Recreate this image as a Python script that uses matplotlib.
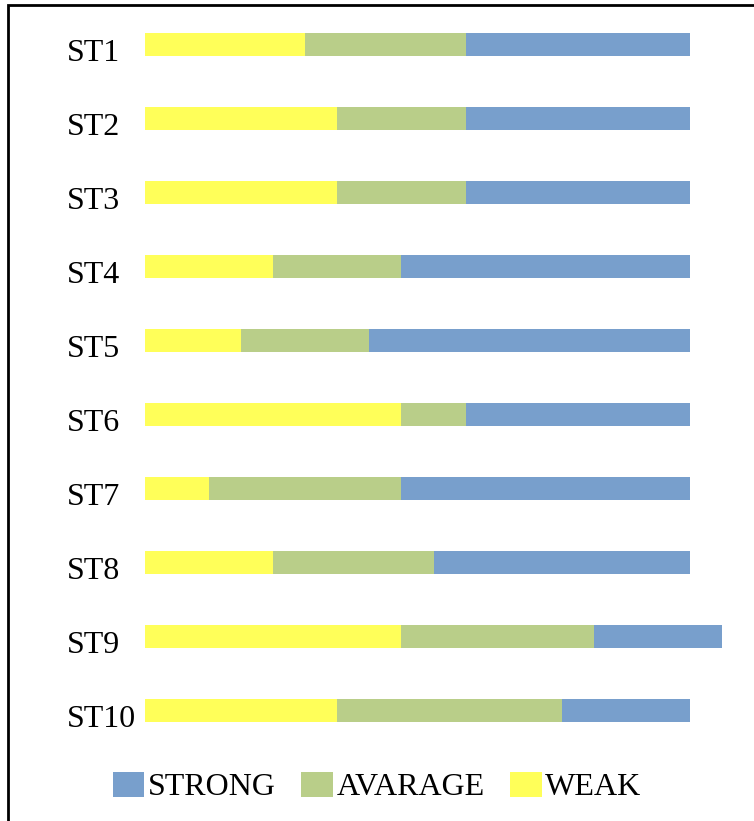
import matplotlib.pyplot as plt
from matplotlib.patches import Rectangle
from matplotlib.transforms import blended_transform_factory, ScaledTranslation

students = ['ST1', 'ST2', 'ST3', 'ST4', 'ST5', 'ST6', 'ST7', 'ST8', 'ST9', 'ST10']
weak = [5, 6, 6, 4, 3, 8, 2, 4, 8, 6]
avarage = [5, 4, 4, 4, 4, 2, 6, 5, 6, 7]
strong = [7, 7, 7, 9, 10, 7, 9, 8, 4, 4]

plt.rcParams['font.family'] = ['Liberation Serif', 'DejaVu Serif']

W, H = 754, 821
fig = plt.figure(figsize=(W / 100, H / 100), dpi=100)

# axes placed in pixel terms: 32 px per unit, 74 px per row
left_px, top_px = 145, 8
unit = 545 / 17
xmax = 18.3
row = 73.9
ax = fig.add_axes([left_px / W, 1 - (top_px + 10 * row) / H,
                   xmax * unit / W, 10 * row / H])

y = list(range(len(students)))
h = 0.31
ax.barh(y, weak, height=h, color='#FFFF59', label='WEAK')
ax.barh(y, avarage, height=h, left=weak, color='#B9CE89', label='AVARAGE')
lefts = [a + b for a, b in zip(weak, avarage)]
ax.barh(y, strong, height=h, left=lefts, color='#789FCC', label='STRONG')

ax.set_xlim(0, xmax)
ax.set_ylim(9.5, -0.5)
ax.set_xticks([])
ax.set_yticks([])
for s in ax.spines.values():
    s.set_visible(False)

# category labels, left aligned, baseline a bit below the bar centre
trans = blended_transform_factory(fig.transFigure, ax.transData) + \
    ScaledTranslation(0, -0.165, fig.dpi_scale_trans)
for yi, name in zip(y, students):
    ax.text(67 / W, yi, name, transform=trans, ha='left', va='baseline', fontsize=23)

handles, labels = ax.get_legend_handles_labels()
fig.legend(handles[::-1], labels[::-1], loc='center', bbox_to_anchor=(377 / W, 1 - 787 / H),
           ncol=3, frameon=False, fontsize=23, handlelength=1.0, handleheight=0.85,
           handletextpad=0.1, columnspacing=0.8)

# outer frame
fig.patches.append(Rectangle((8 / W, -0.05), 1.1, 1 - 5 / H + 0.05, transform=fig.transFigure,
                             fill=False, edgecolor='black', linewidth=2))

fig.savefig('out.png', dpi=100)
